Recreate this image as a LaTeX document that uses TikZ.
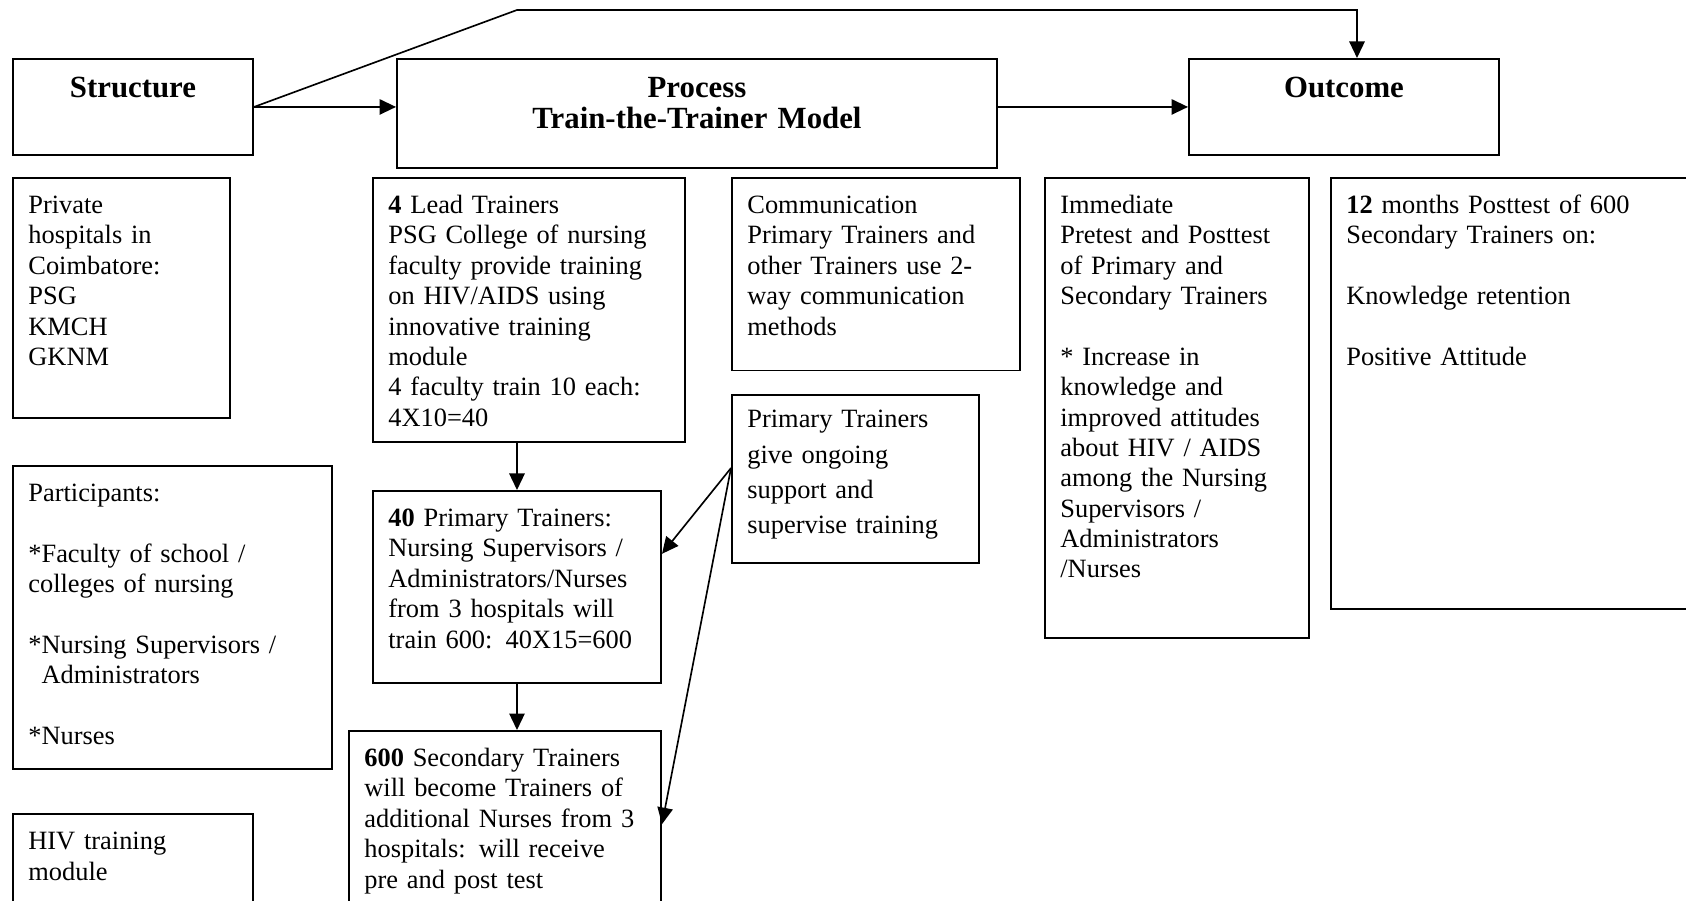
\documentclass[tikz,border=0pt]{standalone}
\usepackage{fontspec}
\setmainfont{Liberation Serif}
\usetikzlibrary{positioning, calc, arrows.meta}

\tikzset{
  box/.style={draw, line width=0.9pt, anchor=north west, align=left,
    inner xsep=7pt, inner ysep=3.6pt, text height=12.6pt,
    font=\fontsize{12}{13.8}\selectfont},
  head/.style={box, align=center, text height=13.7pt,
    font=\fontsize{14}{14.4}\selectfont\bfseries},
  link/.style={-{Triangle[length=7.5pt, width=7pt]}, line width=0.75pt},
}

\begin{document}
\begin{tikzpicture}[x=0.4545pt, y=-0.4545pt]
    \useasboundingbox (0,0) rectangle (1686,901);
    \clip (0,0) rectangle (1686,901);

    % Top row: structure, process, outcome
    \node[head, text width=95.1pt, text depth=22.7pt] (structure) at (12,58) {Structure};
    \node[head, text width=258.7pt, text depth=28.6pt] (process) at (396,58) {Process\\Train-the-Trainer Model};
    \node[head, text width=126.9pt, text depth=22.7pt] (outcome) at (1188,58) {Outcome};

    % Structure column
    \node[box, text width=84.6pt, text depth=89.1pt] (hosp) at (12,177)
        {Private\\hospitals in\\Coimbatore:\\PSG\\KMCH\\GKNM};
    \node[box, text width=131pt, text depth=117.7pt] (part) at (12,465)
        {Participants:\\[13.8pt]*Faculty of school /\\colleges of nursing\\[13.8pt]*Nursing Supervisors /\\\hspace*{6pt}Administrators\\[13.8pt]*Nurses};
    \node[box, text width=95.1pt, text depth=33.2pt] (hiv) at (12,813)
        {HIV training\\module};

    % Process column
    \node[box, text width=127.8pt, text depth=100.4pt] (lead) at (372,177)
        {\textbf{4} Lead Trainers\\PSG College of nursing\\faculty provide training\\on HIV/AIDS using\\innovative training\\module\\4 faculty train 10 each:\\4X10=40};
    \node[box, text width=116.9pt, text depth=67.3pt] (prim40) at (372,490)
        {\textbf{40} Primary Trainers:\\Nursing Supervisors /\\Administrators/Nurses\\from 3 hospitals will\\train 600: 40X15=600};
    \node[box, text width=127.8pt, text depth=70.9pt] (sec600) at (348,730)
        {\textbf{600} Secondary Trainers\\will become Trainers of\\additional Nurses from 3\\hospitals: will receive\\pre and post test};
    \node[box, text width=116.9pt, text depth=67.7pt] (comm) at (731,177)
        {Communication\\Primary Trainers and\\other Trainers use 2-\\way communication\\methods};
    \node[box, text width=98.3pt, text height=11.4pt, text depth=57.8pt,
          font=\fontsize{12}{16}\selectfont] (support) at (731,394)
        {Primary Trainers\\give ongoing\\support and\\supervise training};

    % Outcome column
    \node[box, text width=106pt, text depth=189.1pt] (immed) at (1044,177)
        {Immediate\\Pretest and Posttest\\of Primary and\\Secondary Trainers\\[13.8pt]* Increase in\\knowledge and\\improved attitudes\\about HIV / AIDS\\among the Nursing\\Supervisors /\\Administrators\\/Nurses};
    \node[box, text width=154.2pt, text depth=175.9pt] (post12) at (1330,177)
        {\textbf{12} months Posttest of 600\\Secondary Trainers on:\\[13.8pt]Knowledge retention\\[13.8pt]Positive Attitude};

    % Connectors
    \coordinate (bend1) at (517,10);
    \coordinate (bend2) at (1357,10);
    \draw[link] (structure.east) -- (process.west |- structure.east);
    \draw[link] (process.east |- outcome.west) -- (outcome.west);
    \draw[link] (structure.east) -- (bend1) -- (bend2) -- (bend2 |- outcome.north);
    \draw[link] (lead.south -| prim40.north) -- (prim40.north);
    \draw[link] (prim40.south) -- (prim40.south |- sec600.north);
    \coordinate (fork) at ([yshift=5pt]support.west);
    \draw[link] (fork) -- ([yshift=15pt]prim40.east);
    \draw[link] (fork) -- ([yshift=3pt]sec600.east);

\end{tikzpicture}
\end{document}
